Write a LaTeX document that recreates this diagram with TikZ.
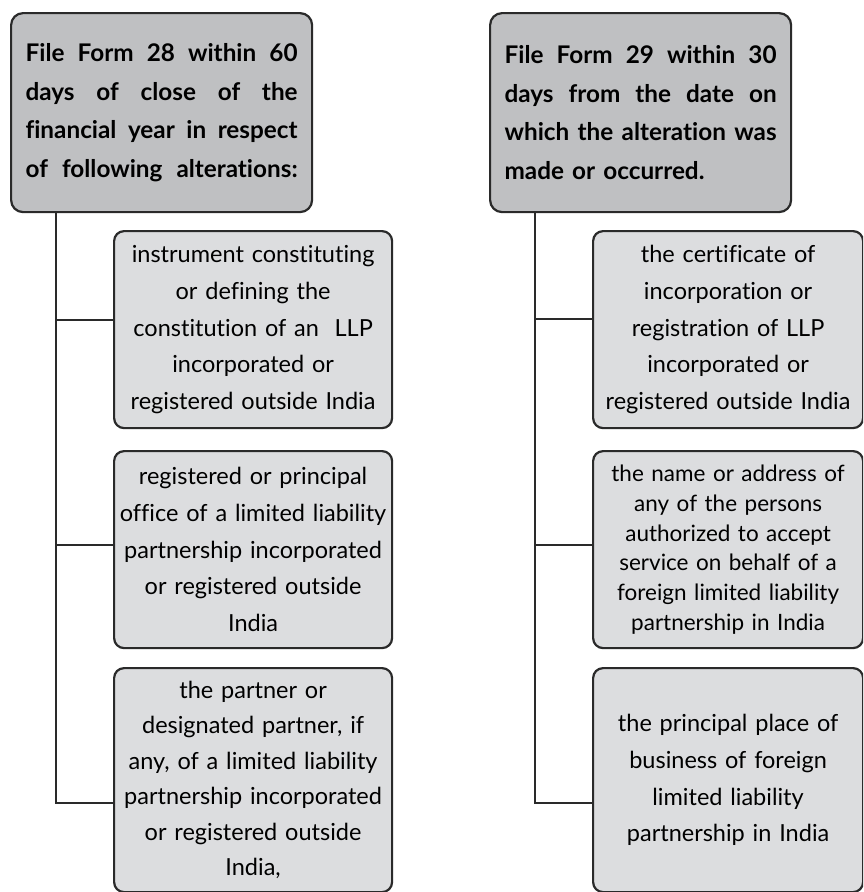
\documentclass[tikz,border=0pt]{standalone}
\usepackage{fontspec}
\setmainfont{Lato}[Ligatures={NoCommon}]
\definecolor{headfill}{HTML}{BFC0C2}
\definecolor{itemfill}{HTML}{DCDDDF}
\definecolor{edge}{HTML}{2A2A2A}
\newcommand{\jline}[1]{\leavevmode\hbox to 272pt{#1}}
\begin{document}
\begin{tikzpicture}[x=1pt,y=-1pt,
  headbox/.style={draw=edge, fill=headfill, line width=2.2pt, rounded corners=12pt,
    anchor=north west, minimum width=301pt, minimum height=199pt, inner xsep=14.5pt,
    text width=272pt, align=left, font=\bfseries\fontsize{24.3}{38.5}\selectfont},
  itembox/.style={draw=edge, fill=itemfill, line width=2.2pt, rounded corners=10pt,
    anchor=north west, minimum width=278pt, inner xsep=1pt,
    text width=276pt, align=center, font=\fontsize{23.5}{36.7}\selectfont},
  ritem/.style={itembox, minimum width=270pt, text width=268pt},
  link/.style={draw=edge, line width=2pt}]
\useasboundingbox (0,0) rectangle (863,892);
\clip (0,0) rectangle (863,892);
% left column
\node[headbox] (L0) at (10,12) {%
  \jline{File\hfill Form\hfill 28\hfill within\hfill 60}\\
  \jline{days\hfill of\hfill close\hfill of\hfill the}\\
  \jline{financial\hfill year\hfill in\hfill respect}\\
  \jline{of\hfill following\hfill alterations:}};
\node[itembox, minimum height=197pt] (L1) at (113,230) {instrument constituting\\ or defining the\\ constitution of an~ LLP\\ incorporated or\\ registered outside India};
\node[itembox, minimum height=197pt] (L2) at (113,450) {registered or principal\\ office of a limited liability\\ partnership incorporated\\ or registered outside\\ India};
\node[itembox, minimum height=224pt, font=\fontsize{23.5}{35.5}\selectfont] (L3) at (113,667) {the partner or\\ designated partner, if\\ any, of a limited liability\\ partnership incorporated\\ or registered outside\\ India,};
% right column
\node[headbox] (R0) at (489,12) {%
  \jline{File\hfill Form\hfill 29\hfill within\hfill 30}\\
  \jline{days\hfill from\hfill the\hfill date\hfill on}\\
  \jline{which\hfill the\hfill alteration\hfill was}\\
  made or occurred.};
\node[ritem, minimum height=197pt] (R1) at (592,230) {the certificate of\\ incorporation or\\ registration of LLP\\ incorporated or\\ registered outside India};
\node[ritem, minimum height=197pt, font=\fontsize{22.5}{29.8}\selectfont] (R2) at (592,450) {the name or address of\\ any of the persons\\ authorized to accept\\ service on behalf of a\\ foreign limited liability\\ partnership in India};
\node[ritem, minimum height=224pt] (R3) at (592,667) {the principal place of\\ business of foreign\\ limited liability\\ partnership in India};
% connectors
\coordinate (LT) at (56,803);
\coordinate (Lb1) at (56,320);
\coordinate (Lb2) at (56,545);
\coordinate (RT) at (535,803);
\coordinate (Rb1) at (535,319);
\coordinate (Rb2) at (535,545);
\draw[link] (L0.south -| LT) -- (LT) -- (LT -| L3.west);
\draw[link] (Lb1) -- (Lb1 -| L1.west);
\draw[link] (Lb2) -- (Lb2 -| L2.west);
\draw[link] (R0.south -| RT) -- (RT) -- (RT -| R3.west);
\draw[link] (Rb1) -- (Rb1 -| R1.west);
\draw[link] (Rb2) -- (Rb2 -| R2.west);
\end{tikzpicture}
\end{document}
